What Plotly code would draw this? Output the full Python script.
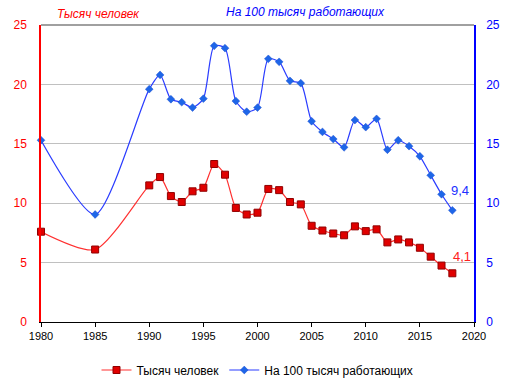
import plotly.graph_objects as go

years = [1980, 1985, 1990, 1991, 1992, 1993, 1994, 1995, 1996, 1997, 1998, 1999,
         2000, 2001, 2002, 2003, 2004, 2005, 2006, 2007, 2008, 2009, 2010, 2011,
         2012, 2013, 2014, 2015, 2016, 2017, 2018]
thousands = [7.6, 6.1, 11.5, 12.2, 10.6, 10.1, 11.0, 11.3, 13.3, 12.4, 9.6, 9.05,
             9.2, 11.2, 11.1, 10.1, 9.9, 8.1, 7.7, 7.45, 7.3, 8.05, 7.65, 7.8,
             6.7, 6.95, 6.7, 6.25, 5.5, 4.75, 4.1]
per100k = [15.3, 9.05, 19.6, 20.8, 18.75, 18.5, 18.05, 18.8, 23.25, 23.05, 18.6, 17.7,
           18.05, 22.15, 21.9, 20.3, 20.1, 16.9, 16.0, 15.4, 14.7, 17.0, 16.4, 17.1,
           14.5, 15.3, 14.8, 13.95, 12.35, 10.75, 9.4]
name1 = "Тысяч человек"
name2 = "На 100 тысяч работающих"
x_ticks = [1980, 1985, 1990, 1995, 2000, 2005, 2010, 2015, 2020]
y_ticks = [0, 5, 10, 15, 20, 25]

font = "Liberation Sans, Arial, sans-serif"
L, R, T, B = 41, 39, 25, 65
W, H = 513, 387
PW, PH = W - L - R, H - T - B

fig = go.Figure()
fig.add_trace(go.Scatter(
    x=years, y=thousands, name=name1, mode="lines+markers", cliponaxis=False,
    line=dict(color="#ff3030", width=1.2, shape="spline", smoothing=0.7),
    marker=dict(symbol="square", size=7, color="#e00000", line=dict(color="#900000", width=1)),
    yaxis="y"))
fig.add_trace(go.Scatter(
    x=years, y=per100k, name=name2, mode="lines+markers", cliponaxis=False,
    line=dict(color="#2a3cff", width=1.2, shape="spline", smoothing=0.7),
    marker=dict(symbol="diamond", size=6, color="#1e66e8", line=dict(color="#1e50d0", width=0.5)),
    yaxis="y2"))

fig.add_annotation(x=years[-1], y=thousands[-1], yref="y", text="4,1", showarrow=False,
                   xshift=10, yshift=17, font=dict(color="#ff2020", size=13, family=font))
fig.add_annotation(x=years[-1], y=per100k[-1], yref="y2", text="9,4", showarrow=False,
                   xshift=8, yshift=20, font=dict(color="#2030ff", size=13, family=font))


def px_x(p):
    return (p - L) / PW


def px_y(p):
    return (H - B - p) / PH


fig.add_annotation(x=px_x(98), y=px_y(14), xref="paper", yref="paper",
                   xanchor="center", yanchor="middle",
                   text="<i>" + name1 + "</i>", showarrow=False,
                   font=dict(color="#ff0000", size=12, family=font))
fig.add_annotation(x=px_x(305), y=px_y(12), xref="paper", yref="paper",
                   xanchor="center", yanchor="middle",
                   text="<i>" + name2 + "</i>", showarrow=False,
                   font=dict(color="#0000ff", size=12, family=font))
fig.add_shape(type="line", xref="paper", yref="paper", x0=0, x1=1, y0=1, y1=1,
              line=dict(color="#808080", width=1.5))

fig.update_layout(
    width=W, height=H,
    margin=dict(l=L, r=R, t=T, b=B, autoexpand=False),
    paper_bgcolor="white", plot_bgcolor="white",
    font=dict(family=font, size=12, color="black"),
    showlegend=True,
    legend=dict(orientation="h", x=0.5, xanchor="center", y=px_y(370), yanchor="middle",
                font=dict(size=12, color="black")),
    xaxis=dict(range=[1980, 2020], tickvals=x_ticks, showgrid=False, showline=True,
               linecolor="black", linewidth=1, ticks="outside", ticklen=4,
               tickcolor="black", tickfont=dict(size=11, color="black"), zeroline=False,
               automargin=False),
    yaxis=dict(range=[0, 25], tickvals=y_ticks, showgrid=True, gridcolor="#c0c0c0",
               gridwidth=1, showline=True, linecolor="#ff0000", linewidth=1.5,
               tickfont=dict(size=12, color="#ff0000"), ticks="", zeroline=False,
               automargin=False, ticklabelstandoff=10),
    yaxis2=dict(range=[0, 25], tickvals=y_ticks, overlaying="y", side="right",
                showgrid=False, showline=True, linecolor="#0000ff", linewidth=1.5,
                tickfont=dict(size=12, color="#0000ff"), ticks="", zeroline=False,
                automargin=False, ticklabelstandoff=8),
)

fig.write_html("out.html", config={"displayModeBar": False},
               post_script="document.body.style.margin='0';")
